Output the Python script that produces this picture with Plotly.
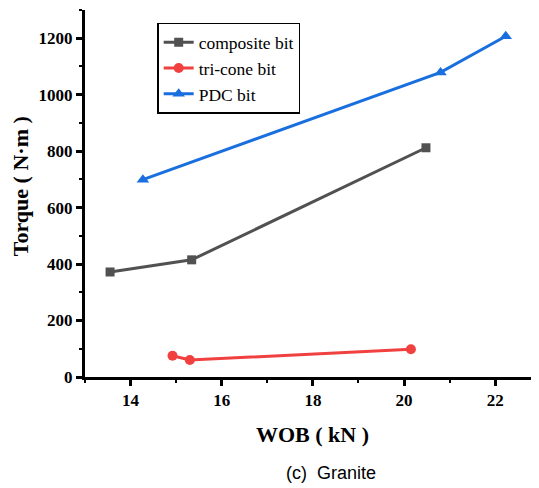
import plotly.graph_objects as go

composite_x = [13.55, 15.34, 20.48]
composite_y = [372, 415, 812]
tricone_x = [14.92, 15.30, 20.15]
tricone_y = [75, 60, 98]
pdc_x = [14.27, 20.80, 22.23]
pdc_y = [699, 1079, 1207]

x_ticks = [14, 16, 18, 20, 22]
y_ticks = [0, 200, 400, 600, 800, 1000, 1200]

serif = "Liberation Serif, Times New Roman, serif"

fig = go.Figure()
fig.add_trace(go.Scatter(x=composite_x, y=composite_y, mode="lines+markers", name="composite bit",
                         line=dict(color="#515151", width=3),
                         marker=dict(symbol="square", size=9, color="#515151")))
fig.add_trace(go.Scatter(x=tricone_x, y=tricone_y, mode="lines+markers", name="tri-cone bit",
                         line=dict(color="#F14040", width=3),
                         marker=dict(symbol="circle", size=10, color="#F14040")))
fig.add_trace(go.Scatter(x=pdc_x, y=pdc_y, mode="lines+markers", name="PDC bit",
                         line=dict(color="#1A6FDF", width=3),
                         marker=dict(symbol="triangle-up", size=11, color="#1A6FDF")))

axis_common = dict(showgrid=False, zeroline=False, showline=True, linecolor="black", linewidth=3,
                   ticks="outside", ticklen=6, tickwidth=2.5, tickcolor="black",
                   tickfont=dict(family=serif, size=17, color="black"))

fig.update_xaxes(range=[13, 22.96], tickvals=x_ticks, ticktext=[f"<b>{v}</b>" for v in x_ticks],
                 minor=dict(dtick=1, ticks="outside", ticklen=3, tickwidth=2, tickcolor="black", tick0=13),
                 ticklabelstandoff=0, **axis_common)
fig.update_yaxes(range=[0, 1300], tickvals=y_ticks, ticktext=[f"<b>{v}</b>" for v in y_ticks],
                 minor=dict(dtick=100, ticks="outside", ticklen=3, tickwidth=2, tickcolor="black", tick0=0),
                 **axis_common)

# page body has an 8px margin, so the figure is sized/offset to compensate
fig.update_layout(
    width=531, height=480,
    margin=dict(l=77, r=0, t=2, b=111),
    plot_bgcolor="white", paper_bgcolor="white",
    showlegend=True,
    legend=dict(x=0.159, y=0.965, xanchor="left", yanchor="top",
                bgcolor="white", bordercolor="black", borderwidth=1.5,
                font=dict(family=serif, size=17.5, color="black"),
                tracegroupgap=0, itemwidth=30),
    annotations=[
        dict(text="<b>WOB ( kN )</b>", xref="paper", yref="paper", x=0.502, y=0,
             yshift=-57, xanchor="center", yanchor="middle", showarrow=False,
             font=dict(family=serif, size=22, color="black")),
        dict(text="<b>Torque ( N·m )</b>", xref="paper", yref="paper", x=0, y=0.52,
             xshift=-65, xanchor="center", yanchor="middle", showarrow=False, textangle=-90,
             font=dict(family=serif, size=22, color="black")),
        dict(text="(c)  Granite", xref="paper", yref="paper", x=0.542, y=0,
             yshift=-96, xanchor="center", yanchor="middle", showarrow=False,
             font=dict(family="Liberation Sans, Arial, sans-serif", size=18, color="black")),
    ],
)

fig.write_html("out.html")
